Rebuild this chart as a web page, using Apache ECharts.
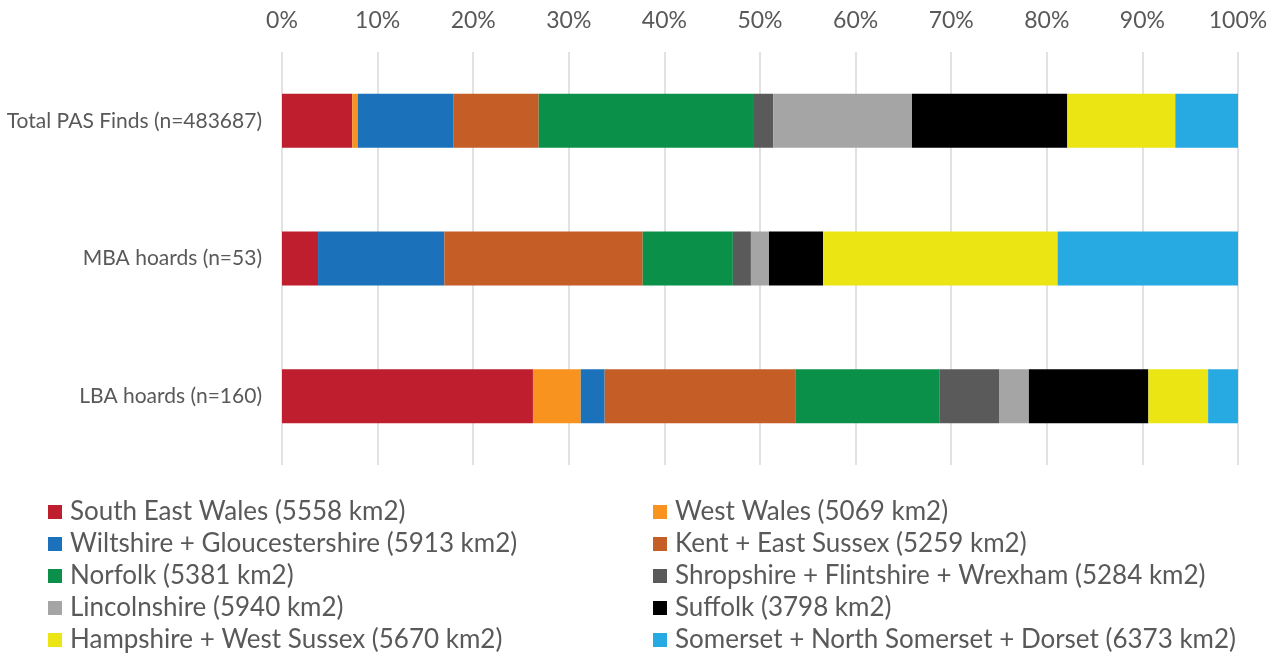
<!DOCTYPE html>
<html><head><meta charset="utf-8">
<script src="https://cdn.jsdelivr.net/npm/echarts@6/dist/echarts.min.js"></script>
<style>html,body{margin:0;padding:0;background:#fff}#c{width:1277px;height:655px}</style>
</head><body><div id="c"></div>
<script>
const categories = ['LBA hoards (n=160)', 'MBA hoards (n=53)', 'Total PAS Finds (n=483687)'];
const seriesNames = [
  'South East Wales (5558 km2)',
  'West Wales (5069 km2)',
  'Wiltshire + Gloucestershire (5913 km2)',
  'Kent + East Sussex (5259 km2)',
  'Norfolk (5381 km2)',
  'Shropshire + Flintshire + Wrexham (5284 km2)',
  'Lincolnshire (5940 km2)',
  'Suffolk (3798 km2)',
  'Hampshire + West Sussex (5670 km2)',
  'Somerset + North Somerset + Dorset (6373 km2)'
];
const colors = ['#BE1E2D','#F7931E','#1B72BA','#C55D27','#0A9048','#5A5A5A','#A5A5A5','#000000','#EBE514','#27AAE1'];
// percentages per series: [LBA, MBA, Total PAS]
const southEastWales = [26.25, 3.77, 7.35];
const westWales = [5.00, 0.00, 0.57];
const wiltsGlos = [2.50, 13.21, 10.04];
const kentEastSussex = [20.00, 20.75, 8.89];
const norfolk = [15.00, 9.43, 22.52];
const shropshire = [6.25, 1.89, 2.03];
const lincolnshire = [3.125, 1.89, 14.50];
const suffolk = [12.50, 5.66, 16.25];
const hampshire = [6.25, 24.53, 11.29];
const somerset = [3.125, 18.87, 6.56];
const tickLabels = ['0%','10%','20%','30%','40%','50%','60%','70%','80%','90%','100%'];

const values = [southEastWales, westWales, wiltsGlos, kentEastSussex, norfolk, shropshire, lincolnshire, suffolk, hampshire, somerset];
const series = seriesNames.map((n, i) => ({
  name: n, type: 'bar', stack: 'all', barWidth: 54,
  itemStyle: { color: colors[i] },
  data: values[i]
}));
const font = 'Lato, "Open Sans", sans-serif';
const legendBase = {
  orient: 'vertical', top: 499, height: 200, padding: 0,
  itemWidth: 14, itemHeight: 14, itemGap: 6, icon: 'rect',
  textStyle: { color: '#595959', fontSize: 26, fontFamily: font, lineHeight: 22, padding: [0,0,0,3] }
};
const chart = echarts.init(document.getElementById('c'));
chart.setOption({
  animation: false,
  grid: { left: 282, right: 39, top: 52, bottom: 190, containLabel: false },
  xAxis: {
    type: 'value', position: 'top', min: 0, max: 100, interval: 10,
    axisLine: { show: false }, axisTick: { show: false },
    splitLine: { show: true, lineStyle: { color: '#D9D9D9', width: 1.5 } },
    axisLabel: { color: '#595959', fontSize: 23, fontFamily: font, margin: 20,
      formatter: v => tickLabels[Math.round(v / 10)] }
  },
  yAxis: {
    type: 'category', data: categories,
    axisLine: { show: false }, axisTick: { show: false },
    axisLabel: { color: '#595959', fontSize: 21, fontFamily: font, margin: 20 }
  },
  legend: [
    Object.assign({}, legendBase, { left: 48, data: seriesNames.filter((_, i) => i % 2 === 0) }),
    Object.assign({}, legendBase, { left: 653, data: seriesNames.filter((_, i) => i % 2 === 1) })
  ],
  series: series
});
</script></body></html>
